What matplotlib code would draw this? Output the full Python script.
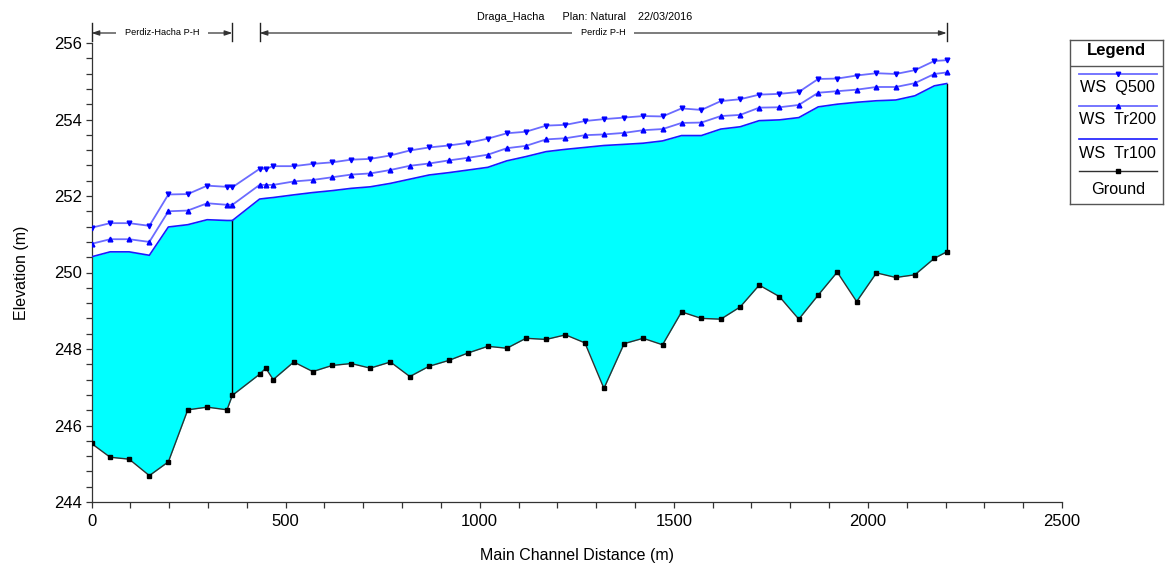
import matplotlib
matplotlib.use("Agg")
import matplotlib.pyplot as plt
from matplotlib.ticker import MultipleLocator
from matplotlib.lines import Line2D
from matplotlib.transforms import blended_transform_factory

plt.rcParams['font.family'] = ['Liberation Sans', 'DejaVu Sans']

# Main channel stations (m)
stations = [0, 48, 97, 149, 198, 248, 298, 349, 363, 433, 449, 468, 521, 570,
            620, 669, 718, 770, 820, 870, 920, 971, 1021, 1070, 1119, 1171,
            1221, 1271, 1320, 1372, 1421, 1471, 1520, 1571, 1621, 1671, 1720,
            1772, 1822, 1872, 1921, 1971, 2022, 2072, 2121, 2171, 2203]

# Channel invert (m)
ground = [245.53, 245.17, 245.12, 244.69, 245.05, 246.41, 246.48, 246.41, 246.79,
          247.34, 247.50, 247.20, 247.66, 247.41, 247.57, 247.62, 247.50, 247.66,
          247.28, 247.55, 247.70, 247.90, 248.07, 248.02, 248.28, 248.25, 248.37,
          248.16, 246.97, 248.14, 248.28, 248.11, 248.97, 248.80, 248.78, 249.10,
          249.67, 249.37, 248.78, 249.41, 250.01, 249.24, 249.99, 249.87, 249.94,
          250.37, 250.54]

# Water surface profiles (m)
ws_tr100 = [250.41, 250.54, 250.54, 250.45, 251.19, 251.25, 251.38, 251.36, 251.36,
            251.92, 251.94, 251.96, 252.03, 252.09, 252.14, 252.20, 252.24, 252.33,
            252.44, 252.55, 252.61, 252.68, 252.75, 252.92, 253.03, 253.16, 253.22,
            253.27, 253.32, 253.35, 253.38, 253.44, 253.58, 253.58, 253.75, 253.81,
            253.97, 253.99, 254.05, 254.33, 254.40, 254.45, 254.49, 254.51, 254.62,
            254.88, 254.94]

ws_tr200 = [250.75, 250.87, 250.87, 250.80, 251.60, 251.62, 251.81, 251.77, 251.77,
            252.29, 252.29, 252.29, 252.38, 252.42, 252.49, 252.56, 252.59, 252.68,
            252.79, 252.85, 252.93, 253.00, 253.08, 253.25, 253.31, 253.48, 253.51,
            253.59, 253.61, 253.65, 253.72, 253.75, 253.91, 253.92, 254.09, 254.12,
            254.31, 254.32, 254.38, 254.70, 254.74, 254.78, 254.85, 254.85, 254.95,
            255.19, 255.23]

ws_q500 = [251.17, 251.29, 251.29, 251.22, 252.04, 252.05, 252.27, 252.24, 252.23,
           252.71, 252.71, 252.78, 252.78, 252.84, 252.88, 252.95, 252.97, 253.06,
           253.19, 253.27, 253.32, 253.39, 253.50, 253.64, 253.68, 253.84, 253.86,
           253.96, 254.01, 254.05, 254.09, 254.08, 254.29, 254.25, 254.48, 254.53,
           254.65, 254.67, 254.72, 255.06, 255.07, 255.15, 255.21, 255.19, 255.29,
           255.53, 255.55]

# Reaches: (name, start station, end station)
reaches = [("Perdiz-Hacha P-H", 0, 363), ("Perdiz P-H", 433, 2203)]
junction_station = 363

title_text = "Draga_Hacha      Plan: Natural    22/03/2016"
legend_labels = ["WS  Q500", "WS  Tr200", "WS  Tr100", "Ground"]

W, H = 1165, 565
fig = plt.figure(figsize=(W / 100, H / 100), dpi=100)
ax = fig.add_axes([91.5 / W, 1 - 502 / H, (1062 - 91.5) / W, (502 - 43) / H])

light_blue = '#6b6bff'
ax.fill_between(stations, ground, ws_tr100, color='#00ffff', lw=0, zorder=1)
ax.plot(stations, ws_tr100, color='#1a1aff', lw=1.2, zorder=3)
ax.plot(stations, ws_tr200, color=light_blue, lw=1.3, marker='^', ms=3.4,
        mfc='#0000ff', mec='#0000ff', zorder=3)
ax.plot(stations, ws_q500, color=light_blue, lw=1.3, marker='v', ms=3.4,
        mfc='#0000ff', mec='#0000ff', zorder=3)
ax.plot(stations, ground, color='#303030', lw=1.0, marker='s', ms=3.2,
        mfc='black', mec='black', zorder=4)

# vertical boundaries of the wetted section
j = stations.index(junction_station)
ax.plot([stations[j]] * 2, [ground[j], ws_tr100[j]], color='black', lw=1.0, zorder=2)
ax.plot([stations[-1]] * 2, [ground[-1], ws_tr100[-1]], color='black', lw=1.0, zorder=2)

ax.set_xlim(0, 2500)
ax.set_ylim(244, 256)
ax.xaxis.set_major_locator(MultipleLocator(500))
ax.xaxis.set_minor_locator(MultipleLocator(100))
ax.yaxis.set_major_locator(MultipleLocator(2))
ax.yaxis.set_minor_locator(MultipleLocator(0.4))
ax.tick_params(which='both', direction='out', length=4, width=0.9, color='#333333',
               labelsize=12, pad=3)
ax.tick_params(axis='x', which='major', pad=5)
for side in ('top', 'right'):
    ax.spines[side].set_visible(False)
for side in ('left', 'bottom'):
    ax.spines[side].set_color('#333333')
    ax.spines[side].set_linewidth(0.9)

ax.set_xlabel("Main Channel Distance (m)", fontsize=11.5, labelpad=13)
ax.set_ylabel("Elevation (m)", fontsize=11.5, labelpad=18)

fig.text(585 / W, 1 - 17 / H, title_text, fontsize=7.8, ha='center', va='center')

# reach extents above the plot
tr = blended_transform_factory(ax.transData, ax.transAxes)
y_line = 1 + 10 / 459
for name, s0, s1 in reaches:
    for s in (s0, s1):
        ax.plot([s, s], [1 + 2 / 459, 1 + 20 / 459], transform=tr, color='#222222',
                lw=1.0, clip_on=False)
    ax.annotate('', xy=(s0, y_line), xytext=(s1, y_line), xycoords=tr, textcoords=tr,
                arrowprops=dict(arrowstyle='<|-|>,head_length=0.45,head_width=0.15',
                                color='#333333', lw=0.9, shrinkA=0, shrinkB=0),
                annotation_clip=False)
    ax.text((s0 + s1) / 2, y_line, name, transform=tr, fontsize=6.7, ha='center',
            va='center', zorder=5, clip_on=False,
            bbox=dict(boxstyle='square,pad=0.9', fc='white', ec='none'))

# legend panel
lg = fig.add_axes([1070 / W, 1 - 204 / H, 93 / W, 164 / H])
lg.set_xlim(0, 93)
lg.set_ylim(164, 0)
lg.set_xticks([])
lg.set_yticks([])
for sp in lg.spines.values():
    sp.set_color('#555555')
    sp.set_linewidth(1.0)
lg.axhline(26, color='#555555', lw=1.0)
lg.text(46.5, 11, "Legend", fontsize=12, fontweight='bold', ha='center', va='center')
line_y = [34, 66, 99.3, 131]
text_y = [47.5, 80, 113.5, 150]
styles = [
    dict(color=light_blue, lw=1.3, marker='v', ms=3.2, mfc='#0000ff', mec='#0000ff'),
    dict(color=light_blue, lw=1.3, marker='^', ms=3.2, mfc='#0000ff', mec='#0000ff'),
    dict(color='#1a1aff', lw=1.2),
    dict(color='#303030', lw=1.0, marker='s', ms=3.0, mfc='black', mec='black'),
]
for ly, ty, lab, st in zip(line_y, text_y, legend_labels, styles):
    lg.add_line(Line2D([9, 86.7], [ly, ly], **{k: v for k, v in st.items()
                                                if k not in ('marker', 'ms', 'mfc', 'mec')}))
    if 'marker' in st:
        lg.plot([47.8], [ly], marker=st['marker'], ms=st['ms'], mfc=st['mfc'],
                mec=st['mec'], ls='none')
    lg.text(47.8, ty, lab, fontsize=11.7, ha='center', va='center')

fig.savefig("out.png", dpi=100)
